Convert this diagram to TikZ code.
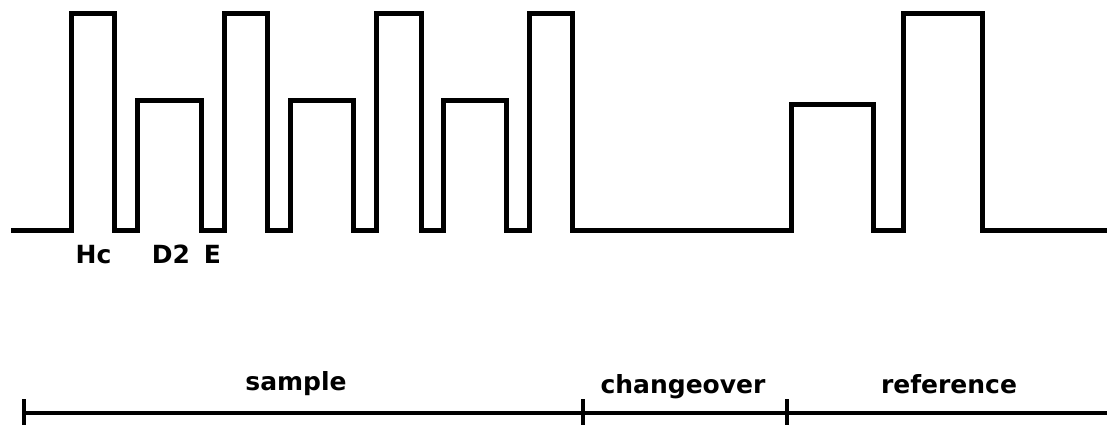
\documentclass[tikz,border=0pt]{standalone}
\usepackage{fontspec}
\setmainfont{DejaVu Sans}
\begin{document}
\begin{tikzpicture}[x=1pt,y=-1pt,
  wave/.style={line width=5pt,line join=miter,line cap=butt},
  axisline/.style={line width=3.4pt},
  lbl/.style={font=\fontsize{25}{30}\selectfont\bfseries,anchor=base,inner sep=0pt}]
\useasboundingbox (0,0) rectangle (1107,425);
% waveform
\draw[wave] (11,230) -- (71,230) -- (71,14) -- (114,14) -- (114,230)
  -- (137,230) -- (137,101) -- (201,101) -- (201,230)
  -- (224,230) -- (224,14) -- (267,14) -- (267,230)
  -- (290,230) -- (290,101) -- (353,101) -- (353,230)
  -- (376,230) -- (376,14) -- (421,14) -- (421,230)
  -- (443,230) -- (443,101) -- (506,101) -- (506,230)
  -- (529,230) -- (529,14) -- (572,14) -- (572,230)
  -- (791,230) -- (791,105) -- (873,105) -- (873,230)
  -- (903,230) -- (903,14) -- (982,14) -- (982,230) -- (1107,230);
% peak labels
\node[lbl] (hc) at (93.5,263) {Hc};
\node[lbl] (d2) at (171,263) {D2};
\node[lbl] (e) at (212.5,263) {E};
% timeline
\coordinate (t0) at (24,413);
\coordinate (t1) at (583,413);
\coordinate (t2) at (787,413);
\coordinate (tend) at (1107,413);
\draw[axisline] (t0) -- (tend);
\draw[axisline] (24,399) -- (24,425);
\draw[axisline] (583,399) -- (583,425);
\draw[axisline] (787,399) -- (787,425);
\node[lbl] (sample) at (296,390) {sample};
\node[lbl] (change) at (683,393) {changeover};
\node[lbl] (ref) at (949,393) {reference};
\end{tikzpicture}
\end{document}
